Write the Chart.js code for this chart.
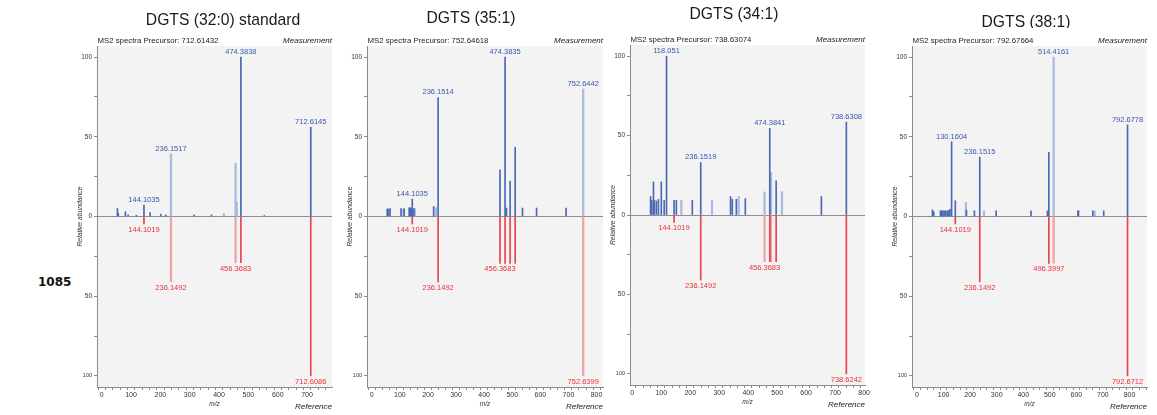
<!DOCTYPE html>
<html>
<head>
<meta charset="utf-8">
<script src="https://cdn.jsdelivr.net/npm/chart.js@4/dist/chart.umd.min.js"></script>
<style>
  html, body { margin: 0; padding: 0; background: #fff; }
  #wrap { position: relative; width: 1157px; height: 415px; overflow: hidden; }
  canvas { position: absolute; top: 0; }
  #sample { position: absolute; left: 38px; top: 275px; font: bold 12px 'DejaVu Sans', sans-serif; line-height: 14px; color: #111; }
</style>
</head>
<body>
<div id="wrap">
  <div id="sample">1085</div>
</div>
<script>
const FONT = "'Liberation Sans', Arial, sans-serif"

const titles = ['DGTS (32:0) standard', 'DGTS (35:1)', 'DGTS (34:1)', 'DGTS (38:1)']
const precursors = ['712.61432', '752.64618', '738.63074', '792.67664']

// panel 1 - DGTS (32:0) standard
const p1MeasMz = [53.6, 56.5, 80.8, 90.1, 118.1, 144.1035, 165.1, 201.2, 218.2, 315.3, 374.3, 474.3838, 554.5, 712.6145]
const p1MeasInt = [5, 2, 3, 1, 0.8, 7.2, 2.4, 1.5, 1, 1, 1, 100, 0.6, 56]
const p1MeasFaintMz = [236.1517, 416.3, 456.37, 460.4]
const p1MeasFaintInt = [39.3, 2, 33.5, 9]
const p1RefMz = [144.1019, 474.38, 712.6086]
const p1RefInt = [-4.7, -29, -100]
const p1RefFaintMz = [236.1492, 456.3683]
const p1RefFaintInt = [-41, -29]
const p1MeasLabels = ['144.1035', '236.1517', '474.3838', '712.6145']
const p1RefLabels = ['144.1019', '236.1492', '456.3683', '712.6086']

// panel 2 - DGTS (35:1)
const p2MeasMz = [55, 58, 65, 104.1, 115.1, 133.1, 137.1, 141.1, 144.1035, 150.1, 220.2, 236.1514, 456.37, 474.3835, 479.4, 492.4, 510.4, 536.4, 586.5, 691.5]
const p2MeasInt = [4.8, 4.5, 5, 5, 4.8, 5.5, 5.5, 5, 10.9, 5, 6.3, 74.7, 29.3, 100, 5.3, 22.2, 43.5, 5.3, 5.3, 5.3]
const p2MeasFaintMz = [61, 112.1, 153.1, 228.2, 752.6442]
const p2MeasFaintInt = [4.8, 4.8, 5, 5.5, 80]
const p2RefMz = [144.1019, 236.1492, 456.3683, 474.38, 492.4, 510.4]
const p2RefInt = [-4.7, -41, -29.4, -29.4, -29.4, -29.4]
const p2RefFaintMz = [752.6399]
const p2RefFaintInt = [-100]
const p2MeasLabels = ['144.1035', '236.1514', '474.3835', '752.6442']
const p2RefLabels = ['144.1019', '236.1492', '456.3683', '752.6399']

// panel 3 - DGTS (34:1)
const p3MeasMz = [63, 67, 73, 76, 83, 90, 100, 110, 118.051, 144.1, 152, 207, 236.1519, 339, 345, 359, 390, 474.3841, 496.4, 652.5, 738.6308]
const p3MeasInt = [11.6, 9.2, 20.8, 9.2, 8.8, 9.9, 20.8, 9.2, 100, 9.2, 9.2, 9.2, 33, 11.6, 9.9, 9.9, 10.3, 54.5, 21.5, 11.6, 58.5]
const p3MeasFaintMz = [169, 275, 367, 456.4, 478.4, 516.4]
const p3MeasFaintInt = [9.2, 9.2, 11.6, 14.5, 26.7, 14.7]
const p3RefMz = [144.1019, 236.1492, 474.38, 496.4, 738.6242]
const p3RefInt = [-4.7, -41, -29.4, -29.4, -100]
const p3RefFaintMz = [456.3683, 478.4]
const p3RefFaintInt = [-29.4, -29.4]
const p3MeasLabels = ['118.051', '236.1519', '474.3841', '738.6308']
const p3RefLabels = ['144.1019', '236.1492', '456.3683', '738.6242']

// panel 4 - DGTS (38:1)
const p4MeasMz = [58, 60, 63, 88, 92, 97, 102, 108, 114, 119, 124, 130.1604, 144.1, 186, 216, 236.1515, 298, 429, 491, 496.4, 606, 608, 662, 703, 792.6778]
const p4MeasInt = [4.2, 3, 3, 3.6, 3.6, 3.6, 3.6, 3.6, 3.6, 3.6, 4.5, 46.9, 9.9, 4, 3.6, 37.3, 3.6, 3.6, 3.6, 40.2, 3.6, 3.6, 3.6, 3.6, 57.5]
const p4MeasFaintMz = [184, 252, 669, 514.4161]
const p4MeasFaintInt = [8.8, 3.6, 3.6, 100]
const p4RefMz = [144.1019, 236.1492, 496.3997, 792.6712]
const p4RefInt = [-4.7, -41, -29.4, -100]
const p4RefFaintMz = [514.4]
const p4RefFaintInt = [-29.4]
const p4MeasLabels = ['130.1604', '236.1515', '514.4161', '792.6778']
const p4RefLabels = ['144.1019', '236.1492', '496.3997', '792.6712']

const BLUE = '#4a69b3'
const BLUE_FAINT = '#a9bbe0'
const BLUE_TEXT = '#3758ab'
const RED = '#e8444d'
const RED_FAINT = '#f2a2a7'
const RED_TEXT = '#e8323b'

function pts (mz, val) {
  return mz.map((m, i) => ({ x: m, y: val[i] }))
}

// layout of each subplot (pixel box of the plot area in the page)
const panels = [
  { left: 97, right: 332, top: 46, bottom: 387, xMin: -16, xMax: 785, titleX: 223, titleY: 21, clip: 0,
    meas: pts(p1MeasMz, p1MeasInt), measFaint: pts(p1MeasFaintMz, p1MeasFaintInt),
    ref: pts(p1RefMz, p1RefInt), refFaint: pts(p1RefFaintMz, p1RefFaintInt),
    measLabels: p1MeasLabels, refLabels: p1RefLabels },
  { left: 367, right: 603, top: 46, bottom: 387, xMin: -17, xMax: 823, titleX: 471, titleY: 19, clip: 0,
    meas: pts(p2MeasMz, p2MeasInt), measFaint: pts(p2MeasFaintMz, p2MeasFaintInt),
    ref: pts(p2RefMz, p2RefInt), refFaint: pts(p2RefFaintMz, p2RefFaintInt),
    measLabels: p2MeasLabels, refLabels: p2RefLabels },
  { left: 630, right: 865, top: 45, bottom: 385, xMin: -8, xMax: 803, titleX: 734, titleY: 15, clip: 0,
    meas: pts(p3MeasMz, p3MeasInt), measFaint: pts(p3MeasFaintMz, p3MeasFaintInt),
    ref: pts(p3RefMz, p3RefInt), refFaint: pts(p3RefFaintMz, p3RefFaintInt),
    measLabels: p3MeasLabels, refLabels: p3RefLabels },
  { left: 912, right: 1147, top: 46, bottom: 387, xMin: -19, xMax: 866, titleX: 1026, titleY: 23, clip: 28,
    meas: pts(p4MeasMz, p4MeasInt), measFaint: pts(p4MeasFaintMz, p4MeasFaintInt),
    ref: pts(p4RefMz, p4RefInt), refFaint: pts(p4RefFaintMz, p4RefFaintInt),
    measLabels: p4MeasLabels, refLabels: p4RefLabels }
]

const Y_AXIS_W = 45
const X_AXIS_H = 12
const PAD_RIGHT = 12

const plotBg = {
  id: 'plotBg',
  beforeDraw (chart) {
    const { ctx, chartArea: a } = chart
    ctx.save()
    ctx.fillStyle = '#f3f3f3'
    ctx.fillRect(a.left, a.top, a.right - a.left, a.bottom - a.top)
    ctx.restore()
  }
}

const spectrumText = {
  id: 'spectrumText',
  afterDatasetsDraw (chart, args, opts) {
    const { ctx, scales } = chart
    const p = opts.panel
    const all = chart.data.datasets.flatMap(ds => ds.data)
    ctx.save()
    ctx.font = '7.5px ' + FONT
    ctx.textAlign = 'center'
    const drawLabel = (lab, up) => {
      const v = parseFloat(lab)
      const pt = all.find(d => d.x === v && (up ? d.y > 0 : d.y < 0))
      if (!pt) return
      const px = scales.x.getPixelForValue(pt.x)
      const py = scales.y.getPixelForValue(pt.y)
      ctx.fillStyle = up ? BLUE_TEXT : RED_TEXT
      ctx.textBaseline = up ? 'bottom' : 'top'
      ctx.fillText(lab, px, up ? py - 1.5 : py + 2)
    }
    p.measLabels.forEach(l => drawLabel(l, true))
    p.refLabels.forEach(l => drawLabel(l, false))
    ctx.restore()
  },
  afterDraw (chart, args, opts) {
    const { ctx, chartArea: a } = chart
    const p = opts.panel
    const off = p.left - Y_AXIS_W
    ctx.save()
    // title
    ctx.save()
    if (p.clip) {
      ctx.beginPath()
      ctx.rect(0, 0, chart.width, p.clip)
      ctx.clip()
    }
    ctx.fillStyle = '#1a1a1a'
    ctx.font = '15.7px ' + FONT
    ctx.textAlign = 'center'
    ctx.textBaseline = 'middle'
    ctx.fillText(opts.title, p.titleX - off, p.titleY)
    ctx.restore()
    // header row
    ctx.fillStyle = '#222'
    ctx.textBaseline = 'middle'
    ctx.font = '7.8px ' + FONT
    ctx.textAlign = 'left'
    ctx.fillText('MS2 spectra Precursor: ' + opts.precursor, a.left + 0.5, a.top - 5.5)
    ctx.font = 'italic 8px ' + FONT
    ctx.textAlign = 'right'
    ctx.fillText('Measurement', a.right, a.top - 5.5)
    // bottom captions
    ctx.fillText('Reference', a.right, a.bottom + 20)
    ctx.textAlign = 'center'
    ctx.font = 'italic 6.5px ' + FONT
    ctx.fillStyle = '#333'
    ctx.fillText('m/z', (a.left + a.right) / 2, a.bottom + 17)
    // y title
    ctx.translate(a.left - 17, (a.top + a.bottom) / 2)
    ctx.rotate(-Math.PI / 2)
    ctx.font = 'italic 6.8px ' + FONT
    ctx.fillText('Relative abundance', 0, 0)
    ctx.restore()
  }
}

const wrap = document.getElementById('wrap')

panels.forEach((p, i) => {
  const cv = document.createElement('canvas')
  const w = p.right - p.left + Y_AXIS_W + PAD_RIGHT
  cv.width = w
  cv.height = 415
  cv.style.width = w + 'px'
  cv.style.height = '415px'
  cv.style.left = (p.left - Y_AXIS_W) + 'px'
  wrap.appendChild(cv)

  new Chart(cv, {
    type: 'bar',
    data: {
      datasets: [
        { data: p.meas, backgroundColor: BLUE, barThickness: 1, grouped: false },
        { data: p.ref, backgroundColor: RED, barThickness: 1, grouped: false },
        { data: p.measFaint, backgroundColor: BLUE_FAINT, barThickness: 1.6, grouped: false },
        { data: p.refFaint, backgroundColor: RED_FAINT, barThickness: 1.6, grouped: false }
      ]
    },
    options: {
      responsive: false,
      animation: false,
      events: [],
      layout: { padding: { top: p.top, bottom: 415 - p.bottom - X_AXIS_H, left: 0, right: PAD_RIGHT } },
      plugins: {
        legend: { display: false },
        tooltip: { enabled: false },
        spectrumText: { panel: p, title: titles[i], precursor: precursors[i] }
      },
      scales: {
        x: {
          type: 'linear',
          min: p.xMin,
          max: p.xMax,
          offset: false,
          afterFit: s => { s.height = X_AXIS_H },
          border: { display: true, color: '#8a8a8a' },
          grid: { drawOnChartArea: false, drawTicks: true, tickLength: 3, tickColor: '#8a8a8a' },
          ticks: {
            stepSize: 25,
            includeBounds: false,
            autoSkip: false,
            maxRotation: 0,
            padding: 1,
            color: '#333',
            font: { family: FONT, size: 7 },
            callback: v => (v % 100 === 0 ? v : '')
          }
        },
        y: {
          min: -107,
          max: 107,
          afterFit: s => { s.width = Y_AXIS_W },
          border: { display: true, color: '#8a8a8a' },
          grid: {
            drawOnChartArea: true,
            drawTicks: true,
            tickLength: 3,
            tickColor: '#8a8a8a',
            color: c => (c.tick && c.tick.value === 0 ? '#8f8f8f' : 'rgba(0,0,0,0)')
          },
          ticks: {
            stepSize: 25,
            includeBounds: false,
            autoSkip: false,
            padding: 2,
            color: '#333',
            font: c => ({ family: FONT, size: c.tick && c.tick.value === -100 ? 5.5 : 6.5 }),
            callback: v => (v % 50 === 0 ? Math.abs(v) : '')
          }
        }
      }
    },
    plugins: [plotBg, spectrumText]
  })
})
</script>
</body>
</html>
